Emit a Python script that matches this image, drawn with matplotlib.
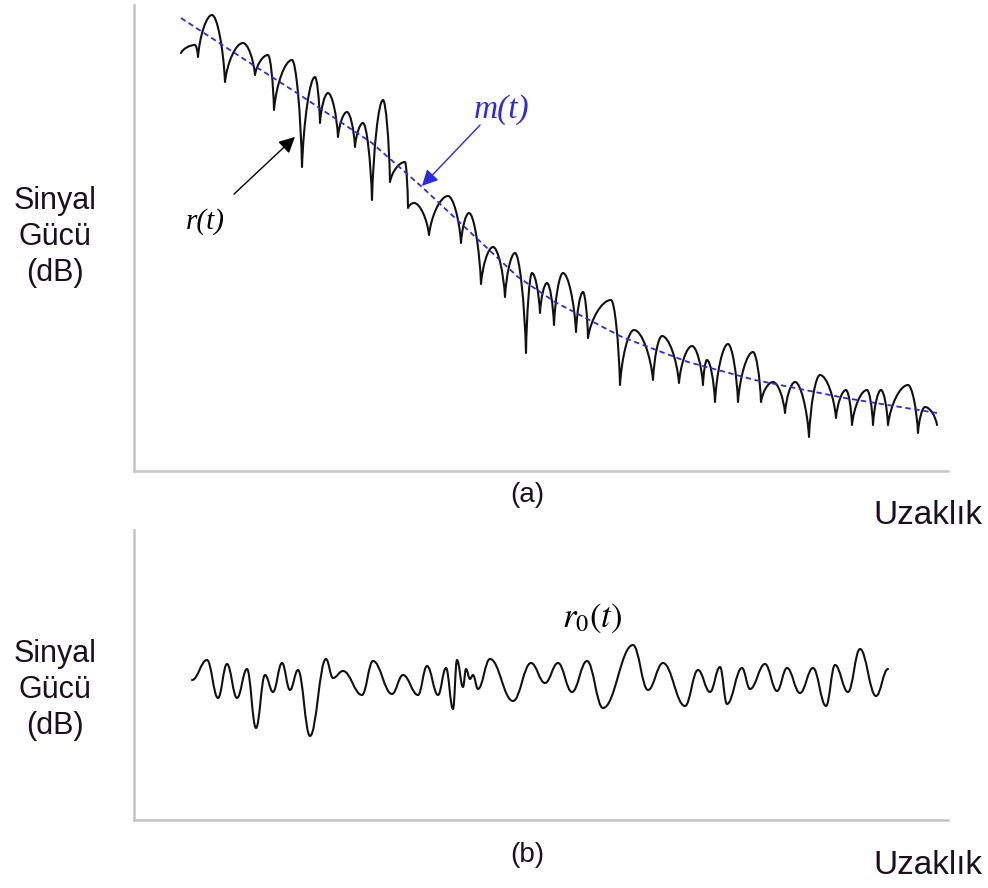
import matplotlib.pyplot as plt
from matplotlib.path import Path
from matplotlib.patches import PathPatch

# received signal r(t): alternating peaks / fades, (distance, level)
r_dist = [47, 61, 64, 78, 91, 109, 121, 134, 140, 158, 168, 181, 186, 194, 204, 213,
          221, 229, 238, 249, 256, 271, 274, 280, 295, 314, 327, 335, 347, 359, 371,
          381, 392, 398, 406, 413, 420, 429, 442, 449, 454, 477, 486, 500, 519, 528,
          545, 558, 569, 573, 581, 594, 604, 619, 627, 639, 651, 661, 675, 686, 702,
          712, 718, 733, 739, 747, 754, 774, 784, 791, 803]
r_level = [418, 426, 414, 456, 389, 428, 396, 416, 361, 411, 304, 394, 348, 378, 334, 359,
           324, 348, 271, 371, 289, 309, 263, 268, 236, 275, 228, 258, 187, 224, 174,
           218, 118, 198, 158, 188, 146, 198, 139, 179, 133, 171, 86, 141, 91, 135,
           88, 125, 86, 111, 69, 127, 69, 119, 69, 89, 58, 89, 34, 96, 53,
           81, 46, 81, 46, 81, 46, 86, 38, 64, 46]

# local mean m(t)
m_dist = [47, 116, 166, 238, 288, 384, 421, 488, 554, 621, 711, 803]
m_level = [453, 408, 376, 328, 284, 194, 169, 134, 109, 91, 73, 58]

# small-scale fading r0(t) after removing the mean
r0_dist = [58, 73, 84, 93, 103, 113, 122, 131, 139, 148, 156, 164, 176, 192, 199, 209,
           228, 239, 258, 269, 284, 293, 304, 312, 319, 323, 329, 332, 336, 339, 344,
           356, 379, 397, 411, 424, 438, 453, 469, 499, 514, 529, 551, 564, 576, 586,
           593, 608, 616, 631, 643, 653, 666, 679, 692, 701, 714, 726, 742, 754]
r0_level = [140, 160, 122, 156, 122, 151, 92, 145, 128, 157, 130, 150, 84, 161, 142, 149,
            125, 159, 126, 145, 125, 154, 125, 152, 111, 160, 133, 151, 141, 145, 131,
            161, 119, 157, 137, 157, 128, 159, 112, 175, 130, 157, 114, 150, 128, 153,
            116, 152, 131, 156, 129, 152, 127, 152, 114, 155, 128, 171, 124, 151]

FONT = 'Liberation Sans'
TXT = '#1a1020'
AXC = '#c4c4c4'
BLUE = '#2b2be0'


def wave_path(xs, ys, cusp):
    # rounded crests, cusp-like fades between them
    n = len(xs)
    peak = []
    for i in range(n):
        left = ys[i - 1] if i > 0 else ys[i + 1]
        right = ys[i + 1] if i < n - 1 else ys[i - 1]
        peak.append(ys[i] >= max(left, right))
    verts = [(xs[0], ys[0])]
    codes = [Path.MOVETO]
    for i in range(n - 1):
        x0, y0, x1, y1 = xs[i], ys[i], xs[i + 1], ys[i + 1]
        dx, dy = x1 - x0, y1 - y0
        if peak[i] or not cusp:
            c1 = (x0 + 0.4 * dx, y0)
        else:
            c1 = (x0 + 0.12 * dx, y0 + 0.5 * dy)
        if peak[i + 1] or not cusp:
            c2 = (x1 - 0.4 * dx, y1)
        else:
            c2 = (x1 - 0.12 * dx, y1 - 0.5 * dy)
        verts += [c1, c2, (x1, y1)]
        codes += [Path.CURVE4] * 3
    return Path(verts, codes)


def style_axes(ax, ymax):
    ax.set_xlim(0, 814)
    ax.set_ylim(0, ymax)
    for s in ['top', 'right']:
        ax.spines[s].set_visible(False)
    for s in ['left', 'bottom']:
        ax.spines[s].set_color(AXC)
        ax.spines[s].set_linewidth(1.8)
    ax.set_xticks([])
    ax.set_yticks([])


plt.rcParams['mathtext.fontset'] = 'stix'
fig = plt.figure(figsize=(9.88, 8.88), dpi=100)
W, H = 988, 888

ax1 = fig.add_axes([134 / W, 1 - 471 / H, 814 / W, 466 / H])
style_axes(ax1, 466)
ax1.add_patch(PathPatch(wave_path(r_dist, r_level, True), fill=False,
                        edgecolor='#111111', lw=1.5, capstyle='round', joinstyle='round'))
ax1.plot(m_dist, m_level, color=BLUE, lw=1.3, ls=(0, (3, 2)))

ax1.annotate('', xy=(163, 336), xytext=(98, 275),
             arrowprops=dict(arrowstyle='-|>', color='black', lw=1.0, mutation_scale=24))
ax1.text(71, 249, 'r(t)', family='Liberation Serif', style='italic', fontsize=21,
         color='black', ha='center', va='center')
ax1.annotate('', xy=(286, 283), xytext=(348, 348),
             arrowprops=dict(arrowstyle='-|>', color=BLUE, lw=1.0, mutation_scale=24))
ax1.text(368, 361, 'm(t)', family='Liberation Serif', style='italic', fontsize=24,
         color=BLUE, ha='center', va='center')

ax2 = fig.add_axes([134 / W, 1 - 820 / H, 814 / W, 290 / H])
style_axes(ax2, 290)
ax2.add_patch(PathPatch(wave_path(r0_dist, r0_level, False), fill=False,
                        edgecolor='#111111', lw=1.5, capstyle='round', joinstyle='round'))
ax2.text(458, 202, r'$r_{\mathrm{0}}(t)$', fontsize=25, color='black',
         ha='center', va='center')

for yc in (237, 690):
    fig.text(55 / W, 1 - yc / H, 'Sinyal\nGücü\n(dB)', family=FONT, fontsize=22,
             color=TXT, ha='center', va='center', linespacing=1.25)
fig.text(527 / W, 1 - 495 / H, '(a)', family=FONT, fontsize=20, color=TXT,
         ha='center', va='center')
fig.text(527 / W, 1 - 855 / H, '(b)', family=FONT, fontsize=20, color=TXT,
         ha='center', va='center')
for yc in (515, 865):
    fig.text(928 / W, 1 - yc / H, 'Uzaklık', family=FONT, fontsize=24, color=TXT,
             ha='center', va='center')

fig.savefig('out.png', dpi=100, facecolor='white')
